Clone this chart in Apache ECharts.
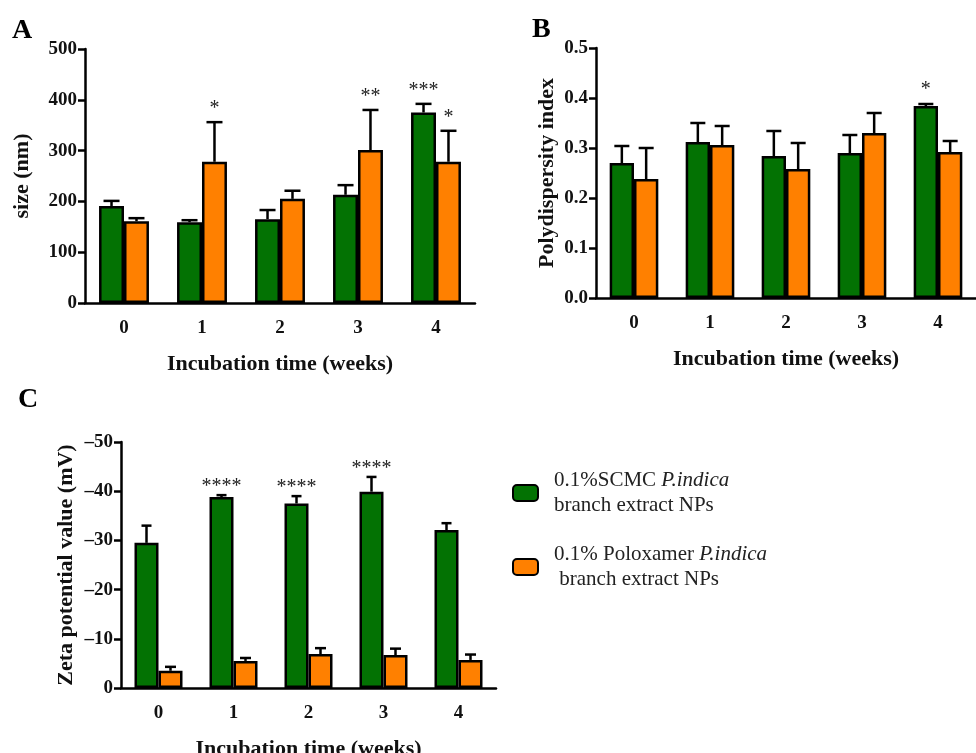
<!DOCTYPE html>
<html>
<head>
<meta charset="utf-8">
<script src="https://cdn.jsdelivr.net/npm/echarts@6/dist/echarts.min.js"></script>
<style>html,body{margin:0;padding:0;background:#fff}#c{width:976px;height:753px}</style>
</head>
<body>
<div id="c"></div>
<script>
const weeks = ['0', '1', '2', '3', '4'];
const seriesNames = ['0.1%SCMC P.indica branch extract NPs', '0.1% Poloxamer P.indica branch extract NPs'];

// Panel A: size (nm)
const sizeSCMC = [191, 159, 165, 213, 375];
const sizeSCMCErr = [10, 4, 18, 19, 17];
const sizePolox = [161, 278, 205, 301, 278];
const sizePoloxErr = [6, 78, 16, 79, 61];
const sizeSCMCStars = ['', '', '', '', '***'];
const sizePoloxStars = ['', '*', '', '**', '*'];

// Panel B: polydispersity index
const pdiSCMC = [0.270, 0.312, 0.284, 0.290, 0.384];
const pdiSCMCErr = [0.034, 0.038, 0.050, 0.036, 0.004];
const pdiPolox = [0.238, 0.306, 0.258, 0.330, 0.292];
const pdiPoloxErr = [0.062, 0.038, 0.052, 0.040, 0.022];
const pdiSCMCStars = ['', '', '', '', '*'];
const pdiPoloxStars = ['', '', '', '', ''];

// Panel C: zeta potential (mV)
const zetaSCMC = [-29.5, -38.8, -37.5, -39.9, -32.1];
const zetaSCMCErr = [3.5, 0.4, 1.5, 3.0, 1.4];
const zetaPolox = [-3.5, -5.5, -6.9, -6.7, -5.7];
const zetaPoloxErr = [0.8, 0.6, 1.2, 1.3, 1.1];
const zetaSCMCStars = ['', '****', '****', '****', ''];
const zetaPoloxStars = ['', '', '', '', ''];

const GREEN = '#037203';
const ORANGE = '#FF8000';
const FONT = 'Liberation Serif';
const BAR_FRAC = 0.32;

const chart = echarts.init(document.getElementById('c'), null, {renderer: 'canvas'});

function errSeries(idx, values, errs, stars, side, capW, starGap) {
  return {
    type: 'custom',
    xAxisIndex: idx, yAxisIndex: idx,
    z: 10,
    silent: true,
    data: values.map((v, i) => [i, v, errs[i]]),
    renderItem: function (params, api) {
      const i = api.value(0), v = api.value(1), e = api.value(2);
      const top = v + Math.sign(v) * e;
      const base = api.coord([i, v]);
      const tip = api.coord([i, top]);
      const band = api.size([1, 0])[0];
      const x = base[0] + side * band * BAR_FRAC / 2;
      const children = [
        {type: 'line', shape: {x1: x, y1: base[1], x2: x, y2: tip[1]}, style: {stroke: '#000', lineWidth: 2.5}},
        {type: 'line', shape: {x1: x - capW / 2, y1: tip[1], x2: x + capW / 2, y2: tip[1]}, style: {stroke: '#000', lineWidth: 2.5}}
      ];
      const s = stars[params.dataIndex];
      if (s) {
        children.push({type: 'text', x: x, y: tip[1] - starGap,
          style: {text: s, fill: '#222', font: '20px ' + FONT, align: 'center', verticalAlign: 'middle'}});
      }
      return {type: 'group', children: children};
    }
  };
}

function barSeries(idx, name, values, color) {
  return {
    type: 'bar', name: name, xAxisIndex: idx, yAxisIndex: idx,
    data: values, barWidth: (BAR_FRAC * 100) + '%', barGap: '0%',
    itemStyle: {color: color, borderColor: '#000', borderWidth: 2.5},
    emphasis: {disabled: true}
  };
}

const axisLine = {lineStyle: {color: '#000', width: 2.5}};
const tickLabel = {color: '#111', fontFamily: FONT, fontWeight: 'bold', fontSize: 19};
const nameStyle = {color: '#111', fontFamily: FONT, fontWeight: 'bold', fontSize: 22};

function xAxis(idx, nameGap) {
  return {
    type: 'category', gridIndex: idx, data: weeks,
    name: 'Incubation time (weeks)', nameLocation: 'middle', nameGap: nameGap, nameTextStyle: nameStyle,
    axisLine: axisLine, axisTick: {alignWithLabel: true, length: 7, lineStyle: {color: '#000', width: 2.5}},
    axisLabel: Object.assign({margin: 16}, tickLabel)
  };
}

const option = {
  backgroundColor: '#fff',
  animation: false,
  legend: {
    orient: 'vertical', left: 512, top: 468, itemGap: 24, padding: 0,
    itemWidth: 25, itemHeight: 16, selectedMode: false,
    itemStyle: {borderColor: '#000', borderWidth: 2},
    data: seriesNames,
    formatter: function (name) {
      return name === seriesNames[0]
        ? '0.1%SCMC {i|P.indica}\nbranch extract NPs'
        : '0.1% Poloxamer {i|P.indica}\n branch extract NPs';
    },
    textStyle: {fontFamily: FONT, fontSize: 21, color: '#222', lineHeight: 25, padding: [0, 0, 0, 11],
      rich: {i: {fontStyle: 'italic', fontFamily: FONT, fontSize: 21, color: '#222', lineHeight: 25}}}
  },
  graphic: [
    {type: 'text', left: 12, top: 17, style: {text: 'A', font: 'bold 28px ' + FONT, fill: '#000'}},
    {type: 'text', left: 532, top: 16, style: {text: 'B', font: 'bold 28px ' + FONT, fill: '#000'}},
    {type: 'text', left: 18, top: 386, style: {text: 'C', font: 'bold 28px ' + FONT, fill: '#000'}}
  ],
  grid: [
    {left: 85, top: 49, width: 390, height: 254, outerBoundsMode: 'none'},
    {left: 596, top: 48, width: 380, height: 250, outerBoundsMode: 'none'},
    {left: 121, top: 442, width: 375, height: 246, outerBoundsMode: 'none'}
  ],
  xAxis: [xAxis(0, 50), xAxis(1, 50), xAxis(2, 50)],
  yAxis: [
    {type: 'value', gridIndex: 0, min: 0, max: 500, interval: 100,
      name: 'size (nm)', nameLocation: 'middle', nameGap: 52, nameTextStyle: nameStyle,
      axisLine: Object.assign({show: true}, axisLine), axisTick: {show: true, length: 7, lineStyle: {color: '#000', width: 2.5}},
      axisLabel: Object.assign({margin: 8}, tickLabel), splitLine: {show: false}},
    {type: 'value', gridIndex: 1, min: 0, max: 0.5, interval: 0.1,
      name: 'Polydispersity index', nameLocation: 'middle', nameGap: 38, nameTextStyle: nameStyle,
      axisLine: Object.assign({show: true}, axisLine), axisTick: {show: true, length: 7, lineStyle: {color: '#000', width: 2.5}},
      axisLabel: Object.assign({margin: 8, formatter: v => v.toFixed(1)}, tickLabel), splitLine: {show: false}},
    {type: 'value', gridIndex: 2, min: -50, max: 0, interval: 10, inverse: true,
      name: 'Zeta potential value (mV)', nameLocation: 'middle', nameGap: 44, nameTextStyle: nameStyle,
      axisLine: Object.assign({show: true}, axisLine), axisTick: {show: true, length: 7, lineStyle: {color: '#000', width: 2.5}},
      axisLabel: Object.assign({margin: 8, formatter: v => v === 0 ? '0' : '\u2013' + Math.abs(v)}, tickLabel), splitLine: {show: false}}
  ],
  series: [
    barSeries(0, seriesNames[0], sizeSCMC, GREEN),
    barSeries(0, seriesNames[1], sizePolox, ORANGE),
    errSeries(0, sizeSCMC, sizeSCMCErr, sizeSCMCStars, -1, 16, 13),
    errSeries(0, sizePolox, sizePoloxErr, sizePoloxStars, 1, 16, 13),
    barSeries(1, seriesNames[0], pdiSCMC, GREEN),
    barSeries(1, seriesNames[1], pdiPolox, ORANGE),
    errSeries(1, pdiSCMC, pdiSCMCErr, pdiSCMCStars, -1, 15, 14),
    errSeries(1, pdiPolox, pdiPoloxErr, pdiPoloxStars, 1, 15, 14),
    barSeries(2, seriesNames[0], zetaSCMC, GREEN),
    barSeries(2, seriesNames[1], zetaPolox, ORANGE),
    errSeries(2, zetaSCMC, zetaSCMCErr, zetaSCMCStars, -1, 10, 8),
    errSeries(2, zetaPolox, zetaPoloxErr, zetaPoloxStars, 1, 11, 8)
  ]
};
chart.setOption(option);
</script>
</body>
</html>
